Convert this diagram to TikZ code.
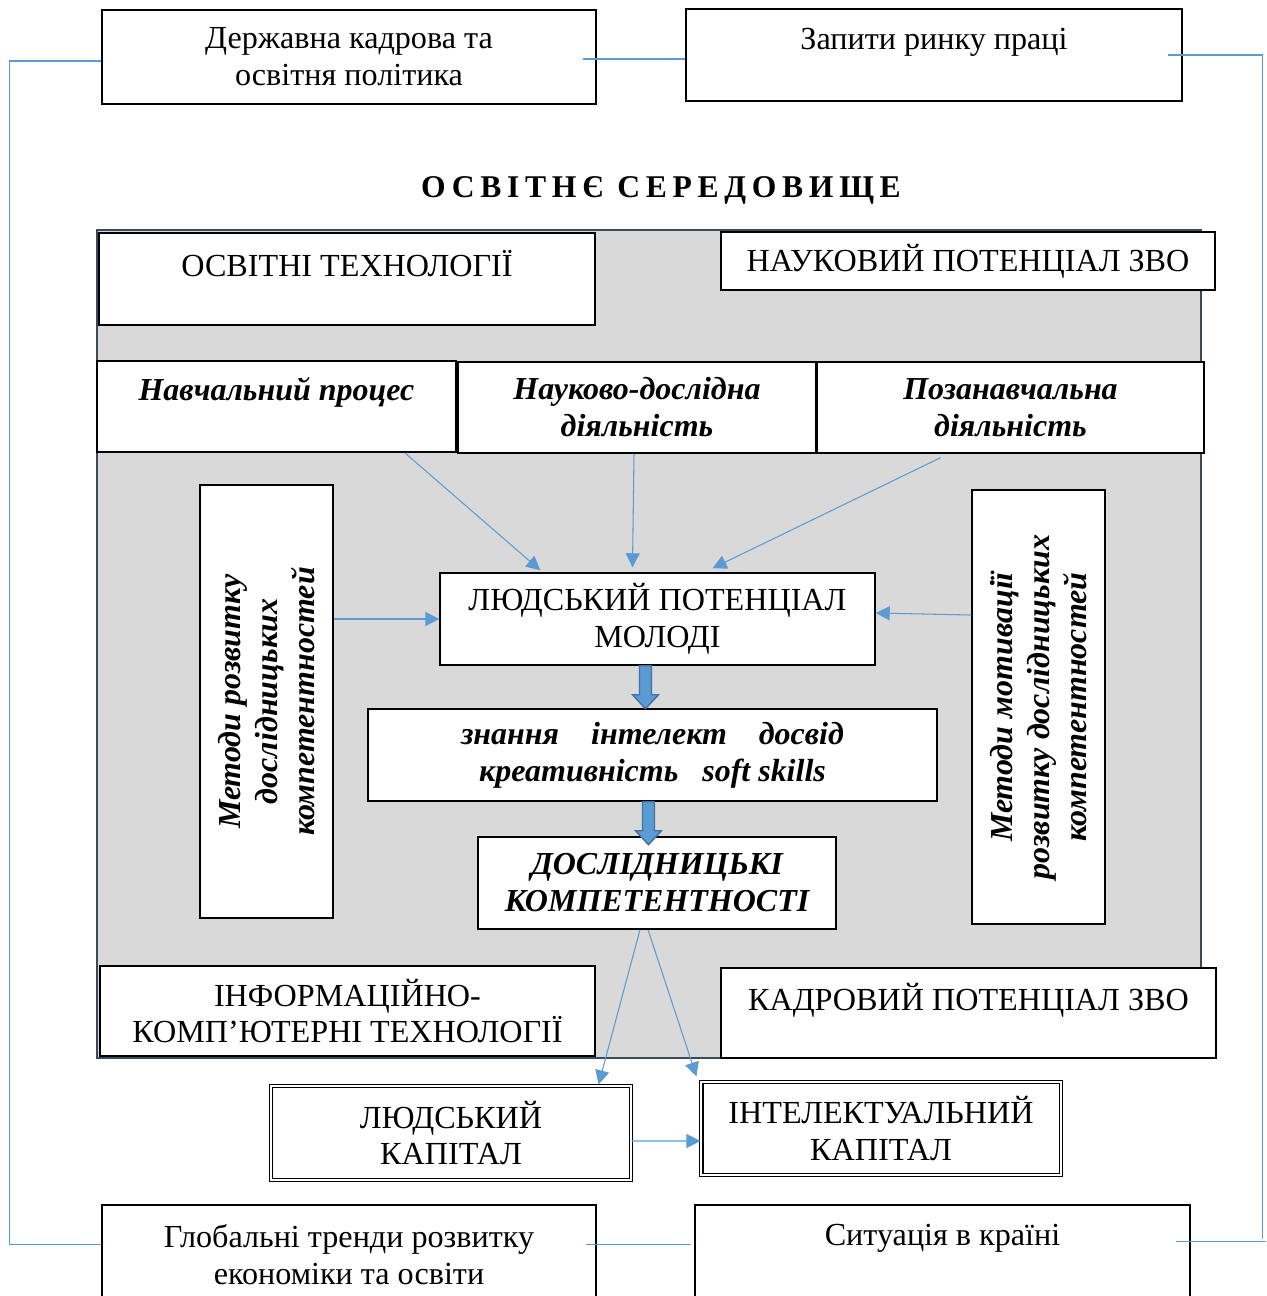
\documentclass[tikz,border=0pt]{standalone}
\usepackage{fontspec}
\setmainfont{Liberation Serif}
\newfontfamily\spacedserif[LetterSpace=18]{Liberation Serif}
\usetikzlibrary{arrows.meta,calc}
\definecolor{arrblue}{HTML}{5B9BD5}
\definecolor{blkline}{HTML}{41719C}
\definecolor{envgray}{HTML}{D9D9D9}
\definecolor{envline}{HTML}{3A4A5C}

\begin{document}
\begin{tikzpicture}[
    x=0.02cm, y=-0.02cm,
    box/.style={draw, line width=0.8pt, fill=white, align=center, inner sep=0pt,
        font=\fontsize{18.3}{21}\selectfont},
    txt/.style={align=center, inner sep=0pt, font=\fontsize{18.3}{21}\selectfont},
    bi/.style={font=\fontsize{18.2}{21}\selectfont\bfseries\itshape},
    dbox/.style={box, double, double distance=1.4pt, line width=0.7pt},
    title/.style={inner sep=0pt, font=\spacedserif\bfseries\fontsize{18}{20}\selectfont},
    env/.style={fill=envgray, draw=envline, line width=0.8pt, inner sep=0pt},
    arr/.style={draw=arrblue, line width=0.6pt, -{Triangle[length=8pt,width=8pt]}},
    link/.style={draw=arrblue, line width=0.6pt},
    blk/.style={fill=arrblue, draw=blkline, line width=0.8pt},
    blkarrow/.pic={\draw[blk] (-6,0) -- (6,0) -- (6,29) -- (13,29) -- (0,43) -- (-13,29) -- (-6,29) -- cycle;}
]
\useasboundingbox (0,0) rectangle (1267,1296);

% outer factors
\node[box, minimum width=9.88cm, minimum height=1.88cm] (dkp) at (349,57) {Державна кадрова та\\освітня політика};
\node[box, minimum width=9.92cm, minimum height=1.84cm] (zrp) at (934,55) {};
\node[txt] (zrp-t) at (934,42) {Запити ринку праці};

\node[title] (sered) at (661,190) {ОСВІТНЄ СЕРЕДОВИЩЕ};

% educational environment
\node[env, minimum width=22.08cm, minimum height=16.56cm] (env) at (649,644) {};

\node[box, minimum width=9.92cm, minimum height=1.84cm] (ot) at (347,279) {};
\node[txt] (ot-t) at (347,264) {ОСВІТНІ ТЕХНОЛОГІЇ};
\node[box, minimum width=9.88cm, minimum height=1.16cm] (npz) at (968,261) {НАУКОВИЙ ПОТЕНЦІАЛ ЗВО};

\node[box, minimum width=7.18cm, minimum height=1.82cm] (np) at (276.5,406.5) {};
\node[txt, bi] (np-t) at (276.5,392) {Навчальний процес};
\node[box, bi, minimum width=7.16cm, minimum height=1.82cm] (nd) at (637,407.5) {Науково-дослідна\\діяльність};
\node[box, bi, minimum width=7.74cm, minimum height=1.82cm] (pd) at (1010.5,407.5) {Позанавчальна\\діяльність};

\node[box, bi, rotate=90, minimum width=8.66cm, minimum height=2.66cm] (mrl) at (266.5,701.5) {Методи розвитку\\дослідницьких\\компетентностей};
\node[box, bi, rotate=90, minimum width=8.68cm, minimum height=2.66cm] (mmr) at (1038.5,707) {Методи мотивації\\розвитку дослідницьких\\компетентностей};

\node[box, minimum width=8.7cm, minimum height=1.84cm] (lpm) at (657.5,619) {ЛЮДСЬКИЙ ПОТЕНЦІАЛ\\МОЛОДІ};
\node[box, bi, minimum width=11.38cm, minimum height=1.84cm] (zn) at (652.5,755) {знання\quad інтелект\quad досвід\\креативність \enspace soft skills};
\node[box, bi, minimum width=7.16cm, minimum height=1.84cm] (dk) at (657,883) {ДОСЛІДНИЦЬКІ\\КОМПЕТЕНТНОСТІ};

\node[box, minimum width=9.9cm, minimum height=1.8cm] (ikt) at (347.5,1011) {ІНФОРМАЦІЙНО-\\КОМП’ЮТЕРНІ ТЕХНОЛОГІЇ};
\node[box, minimum width=9.9cm, minimum height=1.8cm] (kpz) at (968.5,1013) {};
\node[txt] (kpz-t) at (968.5,1000) {КАДРОВИЙ ПОТЕНЦІАЛ ЗВО};

% capital
\node[dbox, minimum width=7.2cm, minimum height=1.88cm] (lk) at (451,1133) {ЛЮДСЬКИЙ\\КАПІТАЛ};
\node[dbox, minimum width=7.2cm, minimum height=1.86cm] (ik) at (881,1128.5) {ІНТЕЛЕКТУАЛЬНИЙ\\КАПІТАЛ};

\node[box, minimum width=9.88cm, minimum height=2.2cm] (glob) at (349,1260) {};
\node[txt] (glob-t) at (349,1255) {Глобальні тренди розвитку\\економіки та освіти};
\node[box, minimum width=9.9cm, minimum height=2.2cm] (sit) at (942.5,1260) {};
\node[txt] (sit-t) at (942.5,1238) {Ситуація в країні};

% frame links
\draw[link] ($(dkp.west)+(0,4)$) -| ($(glob.north west)+(-92,40)$) -- ($(glob.north west)+(0,40)$);
\draw[link] ($(dkp.east)+(-14,2)$) -- ($(zrp.west)+(0,4)$);
\draw[link] ($(zrp.east)+(-15,0)$) -| ($(sit.north east)+(72,35)$);
\draw[link] ($(sit.north east)+(-15,37)$) -- ($(sit.north east)+(75,37)$);
\draw[link] ($(glob.north east)+(-11,40)$) -- ($(sit.north west)+(-3,40)$);

% arrows
\draw[arr] ($(np.south east)+(-52,0)$) -- ($(lpm.north west)+(101,-2)$);
\draw[arr] ($(nd.south)+(-3,0)$) -- ($(lpm.north)+(-25,-5)$);
\draw[arr] ($(pd.south)+(-70,4)$) -- ($(lpm.north)+(55,-4)$);
\draw[arr] (mrl.south |- lpm.west) -- (lpm.west);
\draw[arr] (mmr.north |- 0,615) -- ($(lpm.east)+(0,-6)$);
\draw[arr] ($(dk.south)+(-17,0)$) -- ($(lk.north east)+(-33,-1)$);
\draw[arr] ($(dk.south)+(-9,0)$) -- ($(ik.north west)+(-4,-5)$);
\draw[arr] ($(lk.east)+(0,8)$) -- ($(ik.west)+(0,12.5)$);

\pic at ($(lpm.south)+(-12,0)$) {blkarrow};
\pic at ($(zn.south)+(-4,0)$) {blkarrow};

\end{tikzpicture}
\end{document}
